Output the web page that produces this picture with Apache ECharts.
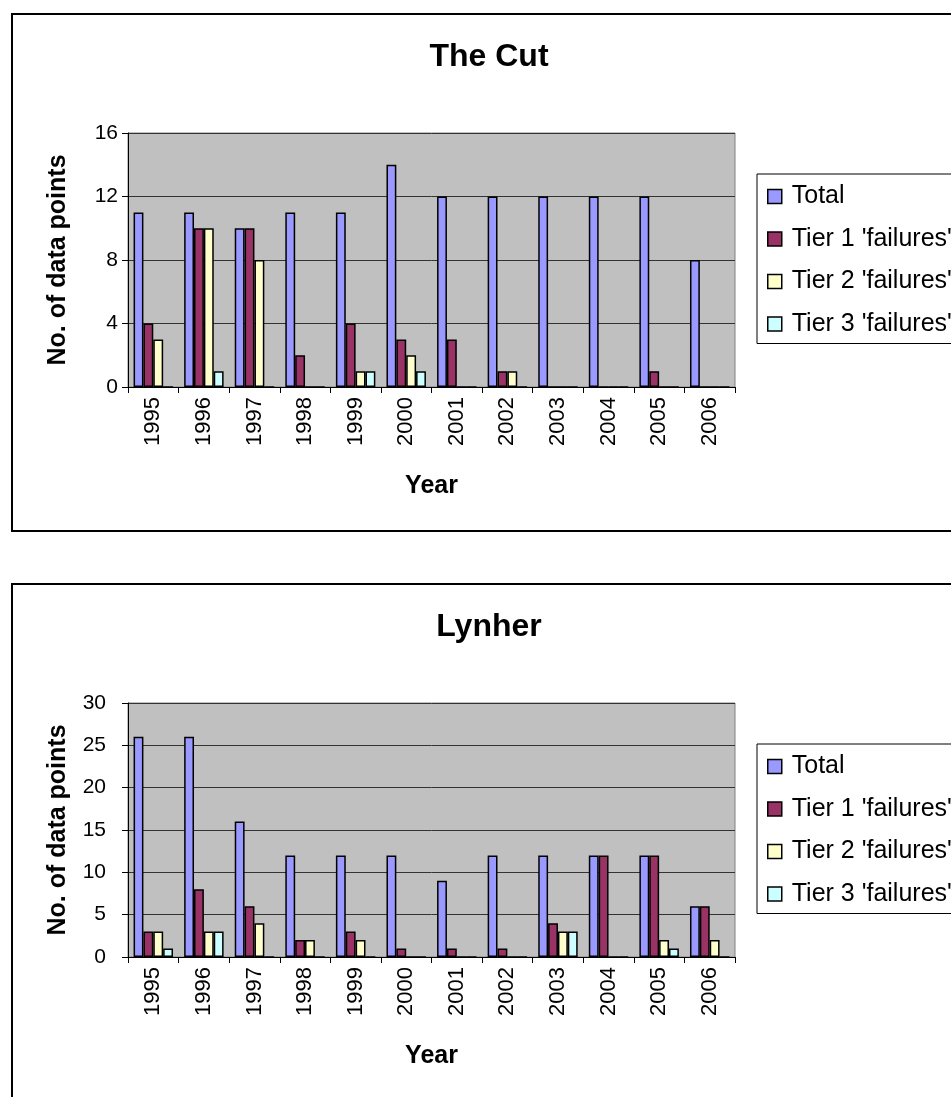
<!DOCTYPE html>
<html>
<head>
<meta charset="utf-8">
<script src="https://cdn.jsdelivr.net/npm/echarts@6/dist/echarts.min.js"></script>
<style>
html,body{margin:0;padding:0;background:#fff;}
#c{width:951px;height:1097px;}
</style>
</head>
<body>
<div id="c"></div>
<script>
const years = ['1995','1996','1997','1998','1999','2000','2001','2002','2003','2004','2005','2006'];
const seriesNames = ['Total', "Tier 1 'failures'", "Tier 2 'failures'", "Tier 3 'failures'"];
const seriesColors = ['#9999FF', '#993366', '#FFFFCC', '#CCFFFF'];

const cutTotal = [11, 11, 10, 11, 11, 14, 12, 12, 12, 12, 12, 8];
const cutTier1 = [4, 10, 10, 2, 4, 3, 3, 1, 0, 0, 1, 0];
const cutTier2 = [3, 10, 8, 0, 1, 2, 0, 1, 0, 0, 0, 0];
const cutTier3 = [0, 1, 0, 0, 1, 1, 0, 0, 0, 0, 0, 0];

const lynTotal = [26, 26, 16, 12, 12, 12, 9, 12, 12, 12, 12, 6];
const lynTier1 = [3, 8, 6, 2, 3, 1, 1, 1, 4, 12, 12, 6];
const lynTier2 = [3, 3, 4, 2, 2, 0, 0, 0, 3, 0, 2, 2];
const lynTier3 = [1, 3, 0, 0, 0, 0, 0, 0, 3, 0, 1, 0];

const charts = [
  {title: 'The Cut', data: [cutTotal, cutTier1, cutTier2, cutTier3], max: 16, interval: 4, top: 133, frameTop: 14, frameBottom: 531, labelMargin: 10},
  {title: 'Lynher', data: [lynTotal, lynTier1, lynTier2, lynTier3], max: 30, interval: 5, top: 703, frameTop: 584, frameBottom: 1101, labelMargin: 22}
];

const FONT = 'Liberation Sans, Arial, sans-serif';
const option = {
  animation: false,
  backgroundColor: '#fff',
  title: [], legend: [], grid: [], xAxis: [], yAxis: [], series: [], graphic: []
};

charts.forEach((c, i) => {
  option.graphic.push({
    type: 'rect', z: -10,
    shape: {x: 12, y: c.frameTop, width: 952, height: c.frameBottom - c.frameTop},
    style: {fill: '#fff', stroke: '#000', lineWidth: 2}
  });
  option.title.push({
    text: c.title, left: 484, top: c.frameTop + 22, textAlign: 'center',
    textStyle: {fontFamily: FONT, fontSize: 32, fontWeight: 'bold', color: '#000'}
  });
  option.grid.push({
    left: 128, top: c.top, width: 607, height: 254, show: true,
    backgroundColor: '#C0C0C0', borderColor: '#808080', borderWidth: 1
  });
  option.xAxis.push({
    type: 'category', gridIndex: i, data: years,
    name: 'Year', nameLocation: 'middle', nameGap: 87,
    nameTextStyle: {fontFamily: FONT, fontSize: 25, fontWeight: 'bold', color: '#000'},
    axisLine: {lineStyle: {color: '#000', width: 1}},
    axisTick: {show: true, length: 6, alignWithLabel: false, lineStyle: {color: '#000'}},
    axisLabel: {rotate: 90, margin: 10, fontFamily: FONT, fontSize: 22, color: '#000'},
    splitLine: {show: false}
  });
  option.yAxis.push({
    type: 'value', gridIndex: i, min: 0, max: c.max, interval: c.interval,
    name: 'No. of data points', nameLocation: 'middle', nameGap: 57,
    nameTextStyle: {fontFamily: FONT, fontSize: 25, fontWeight: 'bold', color: '#000'},
    axisLine: {show: true, lineStyle: {color: '#000', width: 1}},
    axisTick: {show: true, length: 6, lineStyle: {color: '#000'}},
    axisLabel: {margin: c.labelMargin, fontFamily: FONT, fontSize: 21, color: '#000'},
    splitLine: {show: true, lineStyle: {color: '#333', width: 1}}
  });
  option.legend.push({
    orient: 'vertical', left: 757, top: c.top + 41,
    data: seriesNames,
    icon: 'rect', itemWidth: 14, itemHeight: 14, itemGap: 17.5,
    padding: [10, 60, 7, 10],
    borderColor: '#000', borderWidth: 1, backgroundColor: '#fff',
    itemStyle: {borderColor: '#000', borderWidth: 1.5},
    textStyle: {fontFamily: FONT, fontSize: 25, color: '#000', padding: [0, 0, 0, 5]},
    selectedMode: false
  });
  c.data.forEach((vals, s) => {
    option.series.push({
      type: 'bar', name: seriesNames[s], xAxisIndex: i, yAxisIndex: i,
      data: vals, barGap: '0%', barCategoryGap: '22%',
      itemStyle: {color: seriesColors[s], borderColor: '#000', borderWidth: 1.5},
      emphasis: {disabled: true}
    });
  });
});

const chart = echarts.init(document.getElementById('c'), null, {renderer: 'canvas'});
chart.setOption(option);
</script>
</body>
</html>
